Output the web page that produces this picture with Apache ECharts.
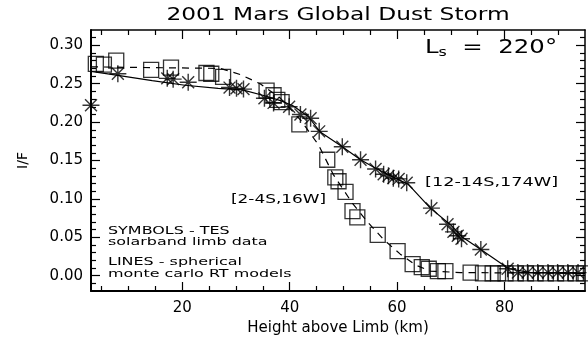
<!DOCTYPE html>
<html>
<head>
<meta charset="utf-8">
<script src="https://cdn.jsdelivr.net/npm/echarts@6/dist/echarts.min.js"></script>
<style>
  html, body { margin: 0; padding: 0; background: #fff; }
  #chart { width: 588px; height: 341px; }
</style>
</head>
<body>
<div id="chart"></div>
<script>
// Solar-band limb profiles, 2001 Mars global dust storm (Ls = 220)

// TES limb data, [2-4S,16W] (squares)
const squareKm = [3.9, 5.4, 7.7, 14.2, 17.9, 24.5, 25.4, 27.6, 35.7, 37.0, 37.7, 38.5, 41.8,
  47.0, 48.5, 49.1, 50.4, 51.7, 52.6, 56.4, 60.1, 62.9, 64.6, 65.9, 67.6, 69.0, 73.7,
  76.0, 77.8, 78.8, 80.2, 82.1, 84.0, 85.8, 87.7, 89.6, 91.4, 93.3, 94.8];
const squareIF = [0.276, 0.275, 0.280, 0.268, 0.271, 0.264, 0.263, 0.259, 0.241, 0.235, 0.229, 0.226, 0.197,
  0.151, 0.128, 0.123, 0.109, 0.084, 0.076, 0.053, 0.032, 0.015, 0.011, 0.009, 0.006, 0.006, 0.004,
  0.003, 0.003, 0.003, 0.003, 0.003, 0.003, 0.003, 0.003, 0.003, 0.003, 0.003, 0.003];

// TES limb data, [12-14S,174W] (asterisks)
const starKm = [3.0, 8.0, 17.2, 18.3, 21.1, 28.8, 30.1, 31.4, 35.3, 37.0, 39.9, 42.0, 43.9, 45.5,
  49.8, 53.2, 56.0, 57.5, 58.4, 59.3, 60.3, 61.8, 66.4, 69.4, 70.5, 71.3, 72.0, 75.6, 80.6,
  82.5, 84.3, 86.2, 88.1, 89.9, 91.8, 93.7];
const starIF = [0.222, 0.263, 0.257, 0.256, 0.252, 0.245, 0.244, 0.243, 0.231, 0.225, 0.220, 0.210, 0.205, 0.188,
  0.168, 0.151, 0.139, 0.132, 0.130, 0.127, 0.126, 0.121, 0.088, 0.067, 0.057, 0.052, 0.048, 0.034, 0.009,
  0.004, 0.004, 0.004, 0.004, 0.004, 0.004, 0.004];

// Spherical Monte Carlo RT model, [2-4S,16W] (dashed)
const dashKm = [3.0, 14.0, 27.1, 30.8, 34.5, 38.3, 42.0, 45.4, 48.1, 51.7, 54.5, 57.5, 60.6, 63.4, 66.2, 71.8, 95.0];
const dashIF = [0.272, 0.271, 0.270, 0.262, 0.250, 0.231, 0.203, 0.170, 0.132, 0.094, 0.070, 0.047, 0.028, 0.014, 0.006, 0.004, 0.003];

// Spherical Monte Carlo RT model, [12-14S,174W] (solid)
const solidKm = [3.0, 8.0, 14.4, 20.5, 26.7, 31.2, 35.5, 38.3, 40.7, 43.5, 45.7, 49.8, 53.2, 56.0, 58.8,
  62.1, 66.2, 70.0, 72.2, 75.6, 80.8, 84.9, 95.0];
const solidIF = [0.266, 0.261, 0.254, 0.248, 0.244, 0.242, 0.234, 0.228, 0.221, 0.207, 0.187, 0.168, 0.151, 0.140, 0.130,
  0.119, 0.088, 0.066, 0.050, 0.034, 0.009, 0.004, 0.003];

// Axis ticks
const xMajorTicks = [20, 40, 60, 80];
const xMinorTicks = [5, 10, 15, 25, 30, 35, 45, 50, 55, 65, 70, 75, 85, 90];
const yMajorTicks = [0, 0.05, 0.10, 0.15, 0.20, 0.25, 0.30];
const yMinorTicks = [-0.01, 0.01, 0.02, 0.03, 0.04, 0.06, 0.07, 0.08, 0.09, 0.11, 0.12, 0.13, 0.14,
  0.16, 0.17, 0.18, 0.19, 0.21, 0.22, 0.23, 0.24, 0.26, 0.27, 0.28, 0.29, 0.31];

const FONT = '"DejaVu Sans", sans-serif';
const INK = '#000';

const pairs = (xs, ys) => xs.map((x, i) => [x, ys[i]]);

const asterisk = 'path://M0,10L20,10M10,0L10,20M3,3L17,17M17,3L3,17';

function xAxisDef(pos, ticks, len, lineW, labels, name) {
  return {
    type: 'value', position: pos, min: 3, max: 95,
    axisLine: { show: true, onZero: false, lineStyle: { color: INK, width: lineW } },
    axisTick: { show: true, inside: true, length: len, customValues: ticks, lineStyle: { color: INK, width: 1.2 } },
    axisLabel: labels ? { show: true, customValues: ticks, margin: 10, color: INK, fontFamily: FONT, fontSize: 15 } : { show: false },
    splitLine: { show: false },
    name: name || '',
    nameLocation: 'middle', nameGap: 30,
    nameTextStyle: { color: INK, fontFamily: FONT, fontSize: 15 }
  };
}
function yAxisDef(pos, ticks, len, lineW, labels, name) {
  return {
    type: 'value', position: pos, min: -0.02, max: 0.32,
    axisLine: { show: true, onZero: false, lineStyle: { color: INK, width: lineW } },
    axisTick: { show: true, inside: true, length: len, customValues: ticks, lineStyle: { color: INK, width: 1.2 } },
    axisLabel: labels ? { show: true, customValues: ticks, margin: 8, color: INK, fontFamily: FONT, fontSize: 15,
      formatter: v => v.toFixed(2) } : { show: false },
    splitLine: { show: false },
    name: name || '',
    nameLocation: 'middle', nameGap: 61, nameRotate: 90,
    nameTextStyle: { color: INK, fontFamily: FONT, fontSize: 14 }
  };
}

const chart = echarts.init(document.getElementById('chart'), null, { renderer: 'canvas' });

chart.setOption({
  animation: false,
  backgroundColor: '#fff',
  grid: { left: 91, right: 3, top: 30, bottom: 44 },
  xAxis: [
    xAxisDef('bottom', xMajorTicks, 9, 2, true, 'Height above Limb (km)'),
    xAxisDef('bottom', xMinorTicks, 5, 0, false),
    xAxisDef('top', xMajorTicks, 9, 1.5, false),
    xAxisDef('top', xMinorTicks, 5, 0, false)
  ],
  yAxis: [
    yAxisDef('left', yMajorTicks, 9, 2, true, 'I/F'),
    yAxisDef('left', yMinorTicks, 5, 0, false),
    yAxisDef('right', yMajorTicks, 9, 1.5, false),
    yAxisDef('right', yMinorTicks, 5, 0, false)
  ],
  series: [
    {
      name: 'model [2-4S,16W]', type: 'line', data: pairs(dashKm, dashIF),
      showSymbol: false, smooth: false, silent: true,
      lineStyle: { color: INK, width: 1.2, type: [7, 6] }
    },
    {
      name: 'model [12-14S,174W]', type: 'line', data: pairs(solidKm, solidIF),
      showSymbol: false, smooth: false, silent: true,
      lineStyle: { color: INK, width: 1.2 }
    },
    {
      name: 'TES [2-4S,16W]', type: 'scatter', data: pairs(squareKm, squareIF),
      symbol: 'rect', symbolSize: 15, silent: true,
      itemStyle: { color: 'rgba(0,0,0,0)', borderColor: INK, borderWidth: 1.3 }
    },
    {
      name: 'TES [12-14S,174W]', type: 'scatter', data: pairs(starKm, starIF),
      symbol: asterisk, symbolSize: 17, silent: true,
      itemStyle: { color: 'rgba(0,0,0,0)', borderColor: INK, borderWidth: 1.4 }
    }
  ],
  graphic: [
    { type: 'text', x: 338, y: 16, scaleX: 1.37, silent: true,
      style: { text: '2001 Mars Global Dust Storm', font: '17px ' + FONT, fill: INK,
        textAlign: 'center', textVerticalAlign: 'middle' } },
    { type: 'text', x: 425, y: 48, scaleX: 1.22, silent: true,
      style: { text: '{l|L}{s|s}{l|  =  220°}', fill: INK, textAlign: 'left', textVerticalAlign: 'middle',
        rich: {
          l: { font: '20px ' + FONT, fill: INK },
          s: { font: '13px ' + FONT, fill: INK, padding: [10, 0, 0, 0] }
        } } },
    { type: 'text', x: 231, y: 200, scaleX: 1.3, silent: true,
      style: { text: '[2-4S,16W]', font: '13px ' + FONT, fill: INK, textAlign: 'left', textVerticalAlign: 'middle' } },
    { type: 'text', x: 425, y: 183, scaleX: 1.36, silent: true,
      style: { text: '[12-14S,174W]', font: '13px ' + FONT, fill: INK, textAlign: 'left', textVerticalAlign: 'middle' } },
    { type: 'text', x: 108, y: 231, scaleX: 1.45, silent: true,
      style: { text: 'SYMBOLS - TES', font: '11px ' + FONT, fill: INK, textAlign: 'left', textVerticalAlign: 'middle' } },
    { type: 'text', x: 108, y: 242, scaleX: 1.45, silent: true,
      style: { text: 'solarband limb data', font: '11px ' + FONT, fill: INK, textAlign: 'left', textVerticalAlign: 'middle' } },
    { type: 'text', x: 108, y: 262, scaleX: 1.45, silent: true,
      style: { text: 'LINES - spherical', font: '11px ' + FONT, fill: INK, textAlign: 'left', textVerticalAlign: 'middle' } },
    { type: 'text', x: 108, y: 274, scaleX: 1.45, silent: true,
      style: { text: 'monte carlo RT models', font: '11px ' + FONT, fill: INK, textAlign: 'left', textVerticalAlign: 'middle' } }
  ]
});
</script>
</body>
</html>
